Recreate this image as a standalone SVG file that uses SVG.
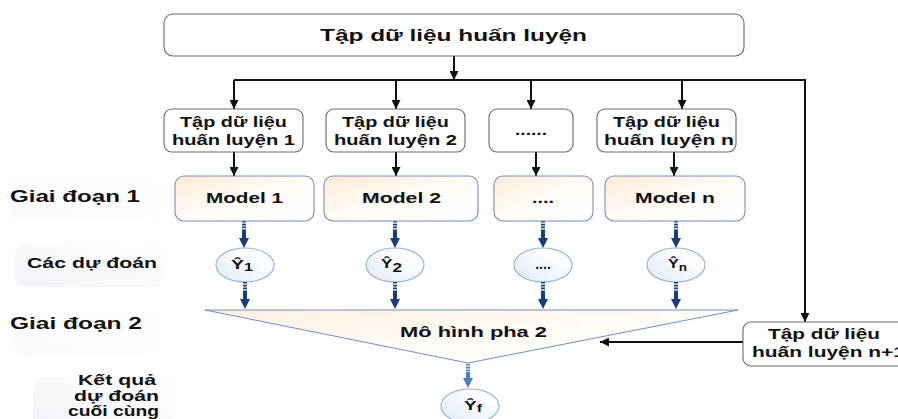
<svg xmlns="http://www.w3.org/2000/svg" width="898" height="419" viewBox="0 0 898 419">
<style>
text{font-family:"Liberation Sans",Arial,sans-serif;font-weight:bold;fill:#111;}
.box{fill:#fff;stroke:#6a6a6a;stroke-width:1.1;}
.model{fill:url(#modelGrad);stroke:#7d8db5;stroke-width:1.1;}
.ell{fill:url(#ellGrad);stroke:#8fb0d6;stroke-width:1.1;}
.conn{fill:none;stroke:#111;stroke-width:2;}
.lbl{fill:url(#lblGrad);}
</style>
<defs>
<linearGradient id="modelGrad" x1="0" y1="0" x2="1" y2="1">
<stop offset="0" stop-color="#fdebd6"/><stop offset="0.45" stop-color="#fffaf5"/><stop offset="1" stop-color="#ffffff"/>
</linearGradient>
<linearGradient id="ellGrad" x1="0" y1="1" x2="1" y2="0">
<stop offset="0" stop-color="#e2eaf6"/><stop offset="0.7" stop-color="#fbfdff"/><stop offset="1" stop-color="#ffffff"/>
</linearGradient>
<linearGradient id="triGrad" x1="0" y1="0" x2="1" y2="1">
<stop offset="0" stop-color="#fcefe0"/><stop offset="0.5" stop-color="#fffbf6"/><stop offset="1" stop-color="#ffffff"/>
</linearGradient>
<linearGradient id="lblGrad" x1="0" y1="1" x2="1" y2="0">
<stop offset="0" stop-color="#eceef6"/><stop offset="0.6" stop-color="#f8f9fc"/><stop offset="1" stop-color="#ffffff"/>
</linearGradient>
<marker id="ah" viewBox="0 0 10 10" refX="10" refY="5" markerWidth="9" markerHeight="9" markerUnits="userSpaceOnUse" orient="auto">
<path d="M0,0 L10,5 L0,10 Z" fill="#111"/>
</marker>
<g id="barrow">
<line x1="0" y1="0" x2="0" y2="9" stroke="#173e7c" stroke-width="4" stroke-dasharray="1.6 1.2"/>
<line x1="0" y1="9" x2="0" y2="19" stroke="#173e7c" stroke-width="4"/>
<polygon points="-5,17 5,17 0,27" fill="#173e7c"/>
</g>
<g id="barrowL">
<line x1="0" y1="0" x2="0" y2="8" stroke="#4a80c0" stroke-width="4" stroke-dasharray="1.6 1.2"/>
<line x1="0" y1="8" x2="0" y2="16" stroke="#4a80c0" stroke-width="4"/>
<polygon points="-5,14 5,14 0,24" fill="#4a80c0"/>
</g>
</defs>

<!-- stage labels -->
<g id="label-giai-doan-1">
<rect class="lbl" x="10" y="176" width="150" height="44" rx="10" opacity="0.35"/>
<text x="10" y="202" font-size="17" textLength="130" lengthAdjust="spacingAndGlyphs">Giai đoạn 1</text>
</g>
<g id="label-cac-du-doan">
<rect class="lbl" x="15" y="242" width="150" height="45" rx="10" opacity="0.7"/>
<text x="27" y="268" font-size="15" textLength="130" lengthAdjust="spacingAndGlyphs">Các dự đoán</text>
</g>
<g id="label-giai-doan-2">
<rect class="lbl" x="14" y="312" width="146" height="44" rx="10" opacity="0.35"/>
<text x="10" y="329" font-size="17" textLength="132" lengthAdjust="spacingAndGlyphs">Giai đoạn 2</text>
</g>
<g id="label-ket-qua">
<rect class="lbl" x="33" y="377" width="142" height="50" rx="10" opacity="0.7"/>
<text x="78" y="385" font-size="14" textLength="78" lengthAdjust="spacingAndGlyphs">Kết quả</text>
<text x="74" y="401" font-size="14" textLength="85" lengthAdjust="spacingAndGlyphs">dự đoán</text>
<text x="68" y="416" font-size="14" textLength="91" lengthAdjust="spacingAndGlyphs">cuối cùng</text>
</g>

<!-- connectors -->
<g id="connectors">
<line class="conn" x1="454" y1="56" x2="454" y2="80" marker-end="url(#ah)"/>
<polyline class="conn" points="234,80 805,80"/>
<line class="conn" x1="234" y1="80" x2="234" y2="109" marker-end="url(#ah)"/>
<line class="conn" x1="396" y1="80" x2="396" y2="109" marker-end="url(#ah)"/>
<line class="conn" x1="531" y1="80" x2="531" y2="109" marker-end="url(#ah)"/>
<line class="conn" x1="682" y1="80" x2="682" y2="109" marker-end="url(#ah)"/>
<line class="conn" x1="805" y1="79" x2="805" y2="322" marker-end="url(#ah)"/>
<line class="conn" x1="234" y1="152" x2="234" y2="176" marker-end="url(#ah)"/>
<line class="conn" x1="396" y1="152" x2="396" y2="176" marker-end="url(#ah)"/>
<line class="conn" x1="536" y1="152" x2="536" y2="176" marker-end="url(#ah)"/>
<line class="conn" x1="674" y1="152" x2="674" y2="176" marker-end="url(#ah)"/>
<line class="conn" x1="743" y1="342" x2="600" y2="342" marker-end="url(#ah)"/>
<use href="#barrow" x="244" y="221"/>
<use href="#barrow" x="395" y="221"/>
<use href="#barrow" x="543" y="221"/>
<use href="#barrow" x="676" y="221"/>
<use href="#barrowL" x="468" y="364"/>
</g>

<!-- nodes -->
<g id="node-train-all">
<rect class="box" x="164" y="14" width="580" height="42" rx="9"/>
<text x="320" y="41" font-size="16" textLength="267" lengthAdjust="spacingAndGlyphs">Tập dữ liệu huấn luyện</text>
</g>
<g id="node-train-1">
<rect class="box" x="164" y="109" width="139" height="43" rx="8"/>
<text x="180" y="127" font-size="15" textLength="107" lengthAdjust="spacingAndGlyphs">Tập dữ liệu</text>
<text x="172" y="145" font-size="15" textLength="123" lengthAdjust="spacingAndGlyphs">huấn luyện 1</text>
</g>
<g id="node-train-2">
<rect class="box" x="326" y="109" width="139" height="43" rx="8"/>
<text x="342" y="127" font-size="15" textLength="107" lengthAdjust="spacingAndGlyphs">Tập dữ liệu</text>
<text x="334" y="145" font-size="15" textLength="123" lengthAdjust="spacingAndGlyphs">huấn luyện 2</text>
</g>
<g id="node-train-dots">
<rect class="box" x="489" y="109" width="84" height="43" rx="8"/>
<text x="515" y="135" font-size="15" textLength="32" lengthAdjust="spacingAndGlyphs">......</text>
</g>
<g id="node-train-n">
<rect class="box" x="597" y="109" width="139" height="43" rx="8"/>
<text x="613" y="127" font-size="15" textLength="107" lengthAdjust="spacingAndGlyphs">Tập dữ liệu</text>
<text x="604" y="145" font-size="15" textLength="130" lengthAdjust="spacingAndGlyphs">huấn luyện n</text>
</g>

<g id="node-model-1">
<rect class="model" x="175" y="176" width="139" height="45" rx="9"/>
<text x="206" y="203" font-size="15" textLength="77" lengthAdjust="spacingAndGlyphs">Model 1</text>
</g>
<g id="node-model-2">
<rect class="model" x="324" y="176" width="154" height="45" rx="9"/>
<text x="362" y="203" font-size="15" textLength="79" lengthAdjust="spacingAndGlyphs">Model 2</text>
</g>
<g id="node-model-dots">
<rect class="model" x="494" y="176" width="99" height="45" rx="9"/>
<text x="532" y="203" font-size="15" textLength="22" lengthAdjust="spacingAndGlyphs">....</text>
</g>
<g id="node-model-n">
<rect class="model" x="605" y="176" width="140" height="45" rx="9"/>
<text x="635" y="203" font-size="15" textLength="80" lengthAdjust="spacingAndGlyphs">Model n</text>
</g>

<g id="node-pred-1">
<ellipse class="ell" cx="245" cy="265" rx="29" ry="17"/>
<text x="231" y="269" font-size="12" textLength="22" lengthAdjust="spacingAndGlyphs">Ŷ<tspan font-size="10" dy="2">1</tspan></text>
</g>
<g id="node-pred-2">
<ellipse class="ell" cx="395" cy="265" rx="29" ry="17"/>
<text x="381" y="268" font-size="12" textLength="21" lengthAdjust="spacingAndGlyphs">Ŷ<tspan font-size="12" dy="4">2</tspan></text>
</g>
<g id="node-pred-dots">
<ellipse class="ell" cx="543" cy="265" rx="29" ry="17"/>
<text x="543" y="269" font-size="14" text-anchor="middle">....</text>
</g>
<g id="node-pred-n">
<ellipse class="ell" cx="676" cy="265" rx="29" ry="17"/>
<text x="668" y="268" font-size="12" textLength="19" lengthAdjust="spacingAndGlyphs">Ŷ<tspan font-size="10" dy="3">n</tspan></text>
</g>

<g id="node-meta-model">
<polygon points="205,310 738,310 468,363" fill="url(#triGrad)" stroke="#6f8fc0" stroke-width="1"/>
<text x="400" y="337" font-size="15" textLength="147" lengthAdjust="spacingAndGlyphs">Mô hình pha 2</text>
</g>
<g id="arrows-to-meta">
<use href="#barrow" x="245" y="282"/>
<use href="#barrow" x="395" y="282"/>
<use href="#barrow" x="543" y="282"/>
<use href="#barrow" x="676" y="282"/>
</g>

<g id="node-train-n1">
<rect class="box" x="743" y="322" width="170" height="44" rx="8"/>
<text x="768" y="339" font-size="15" textLength="112" lengthAdjust="spacingAndGlyphs">Tập dữ liệu</text>
<text x="752" y="357" font-size="15" textLength="153" lengthAdjust="spacingAndGlyphs">huấn luyện n+1</text>
</g>

<g id="node-final">
<ellipse class="ell" cx="470" cy="406" rx="29" ry="17"/>
<text x="464" y="410" font-size="12" textLength="18" lengthAdjust="spacingAndGlyphs">Ŷ<tspan font-size="10" dy="2">f</tspan></text>
</g>
</svg>
